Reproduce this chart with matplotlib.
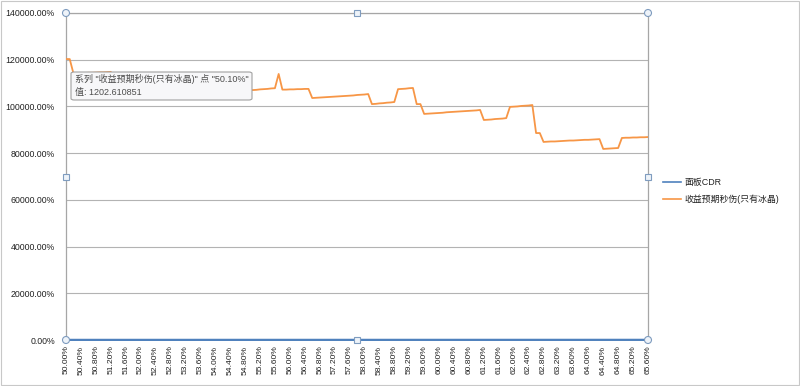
import matplotlib
matplotlib.use("Agg")
import matplotlib.pyplot as plt
from matplotlib.patches import FancyBboxPatch, Ellipse, Rectangle
from matplotlib.lines import Line2D

plt.rcParams['font.family'] = ['Liberation Sans', 'Noto Sans CJK SC', 'DejaVu Sans']

# categories: 50.00% .. 65.60% in 0.10% steps
categories = [f"{50 + i * 0.1:.2f}%" for i in range(157)]
label_every = 4

# series: 收益预期秒伤(只有冰晶)  (1.0 == 100%)
dps = [
    1203, 1202.6,
    1141, 1142, 1142, 1143, 1144, 1144, 1145, 1146, 1146, 1147, 1148,
    1115, 1116, 1116, 1117, 1117, 1118, 1119, 1119, 1120, 1120, 1121, 1121, 1122,
    1090, 1091, 1092, 1092, 1093, 1094, 1095, 1096, 1096, 1097, 1098, 1099, 1100,
    1063, 1064, 1064, 1065, 1066, 1066, 1067, 1068, 1068, 1069, 1070,
    1070, 1071, 1073, 1074, 1075, 1077, 1078,
    1139,
    1072, 1072, 1073, 1073, 1074, 1074, 1075, 1075,
    1036, 1037, 1038, 1039, 1040, 1041, 1042, 1043, 1044, 1045, 1046, 1047, 1049, 1050, 1051, 1053,
    1010, 1011, 1013, 1014, 1016, 1017, 1019,
    1074, 1075, 1076, 1078, 1079,
    1010, 1010,
    968, 969, 970, 971, 972, 973, 975, 976, 977, 978, 979, 980, 981, 982, 983, 985,
    942, 943, 944, 946, 947, 948, 950,
    998, 999, 1000, 1002, 1003, 1004, 1006,
    886, 886,
    848, 849, 850, 850, 851, 852, 853, 854, 854, 855, 856, 857, 857, 858, 859, 860,
    818, 819, 820, 821, 822,
    865, 866, 866, 867, 867, 868, 868, 869,
]

# series: 面板CDR (near zero on this scale)
cdr = [
    0.50, 0.50, 0.50, 0.50, 0.50, 0.50, 0.50, 0.50, 0.50, 0.50, 0.51, 0.51, 0.51, 0.51, 0.51, 0.51,
    0.51, 0.51, 0.51, 0.51, 0.52, 0.52, 0.52, 0.52, 0.52, 0.52, 0.52, 0.52, 0.52, 0.52, 0.53, 0.53,
    0.53, 0.53, 0.53, 0.53, 0.53, 0.53, 0.53, 0.53, 0.54, 0.54, 0.54, 0.54, 0.54, 0.54, 0.54, 0.54,
    0.54, 0.54, 0.55, 0.55, 0.55, 0.55, 0.55, 0.55, 0.55, 0.55, 0.55, 0.55, 0.56, 0.56, 0.56, 0.56,
    0.56, 0.56, 0.56, 0.56, 0.56, 0.56, 0.57, 0.57, 0.57, 0.57, 0.57, 0.57, 0.57, 0.57, 0.57, 0.57,
    0.58, 0.58, 0.58, 0.58, 0.58, 0.58, 0.58, 0.58, 0.58, 0.58, 0.59, 0.59, 0.59, 0.59, 0.59, 0.59,
    0.59, 0.59, 0.59, 0.59, 0.60, 0.60, 0.60, 0.60, 0.60, 0.60, 0.60, 0.60, 0.60, 0.60, 0.61, 0.61,
    0.61, 0.61, 0.61, 0.61, 0.61, 0.61, 0.61, 0.61, 0.62, 0.62, 0.62, 0.62, 0.62, 0.62, 0.62, 0.62,
    0.62, 0.62, 0.63, 0.63, 0.63, 0.63, 0.63, 0.63, 0.63, 0.63, 0.63, 0.63, 0.64, 0.64, 0.64, 0.64,
    0.64, 0.64, 0.64, 0.64, 0.64, 0.64, 0.65, 0.65, 0.65, 0.65, 0.65, 0.65, 0.65,
]

series_names = ["面板CDR", "收益预期秒伤(只有冰晶)"]
y_ticks = [0, 200, 400, 600, 800, 1000, 1200, 1400]
tooltip_lines = ['系列 "收益预期秒伤(只有冰晶)" 点 "50.10%"', '值: 1202.610851']

W, H = 800, 386
fig = plt.figure(figsize=(W / 100, H / 100), dpi=100)
fig.patch.set_facecolor('white')

L, R, T, B = 66, 648, 13, 340
ax = fig.add_axes([L / W, 1 - B / H, (R - L) / W, (B - T) / H])

x = list(range(len(categories)))
ax.plot(x, cdr, color='#4F81BD', lw=1.6, label=series_names[0], zorder=3, clip_on=False)
ax.plot(x, dps, color='#F79646', lw=1.3, label=series_names[1], zorder=4)

ax.set_xlim(0, len(categories) - 1)
ax.set_ylim(0, 1400)
ax.set_yticks(y_ticks)
ax.set_yticklabels([f"{v * 100:.2f}%" for v in y_ticks], fontsize=6.3, color='#222222')
ax.yaxis.grid(True, color='#b3b3b3', lw=0.8)
ax.set_axisbelow(True)

xt = x[::label_every]
ax.set_xticks(xt)
ax.set_xticklabels([categories[i] for i in xt], rotation=90, fontsize=6.1, color='#222222')
ax.tick_params(axis='y', length=0, pad=8)
ax.tick_params(axis='x', length=0, pad=4)

for s in ['top', 'right', 'left']:
    ax.spines[s].set_color('#a6a6a6')
    ax.spines[s].set_linewidth(0.9)
ax.spines['bottom'].set_color('#8ea9c8')
ax.spines['bottom'].set_linewidth(1.2)

# legend
handles = [Line2D([0], [0], color='#4F81BD', lw=1.2), Line2D([0], [0], color='#F79646', lw=1.2)]
fig.legend(handles, series_names, loc='upper left', bbox_to_anchor=(655 / W, 1 - 170 / H),
           frameon=False, fontsize=6.4, handlelength=2.0, handletextpad=0.4, labelspacing=0.8,
           labelcolor='#222222')

# selection handles of plot area
hx = [L, (L + R) / 2, R]
hy = [T, (T + B) / 2, B]
for i, px in enumerate(hx):
    for j, py in enumerate(hy):
        if i == 1 and j == 1:
            continue
        fx, fy = px / W, 1 - py / H
        if i != 1 and j != 1:
            fig.add_artist(Ellipse((fx, fy), width=7 / W, height=7 / H, transform=fig.transFigure,
                                   facecolor='#eef3f9', edgecolor='#7f9cbf', lw=0.8, zorder=10))
        else:
            fig.add_artist(Rectangle((fx - 3 / W, fy - 3 / H), 6 / W, 6 / H, transform=fig.transFigure,
                                     facecolor='#eef3f9', edgecolor='#7f9cbf', lw=0.8, zorder=10))

# tooltip
tb = FancyBboxPatch((71 / W, 1 - 100 / H), 181 / W, 28 / H, boxstyle='round,pad=0,rounding_size=0.004',
                    transform=fig.transFigure, facecolor='#f7f7f9', edgecolor='#a0a0a0', lw=0.8, zorder=11)
fig.add_artist(tb)
fig.text(75 / W, 1 - 79 / H, tooltip_lines[0], fontsize=6.5, color='#4d4d4d', va='center', zorder=12)
fig.text(75 / W, 1 - 92 / H, tooltip_lines[1], fontsize=6.5, color='#4d4d4d', va='center', zorder=12)

# outer chart border
fig.add_artist(Rectangle((1 / W, 1 / H), 1 - 2 / W, 1 - 2 / H, transform=fig.transFigure,
                         fill=False, edgecolor='#c8c8c8', lw=0.8))

fig.savefig('out.png', dpi=100)
